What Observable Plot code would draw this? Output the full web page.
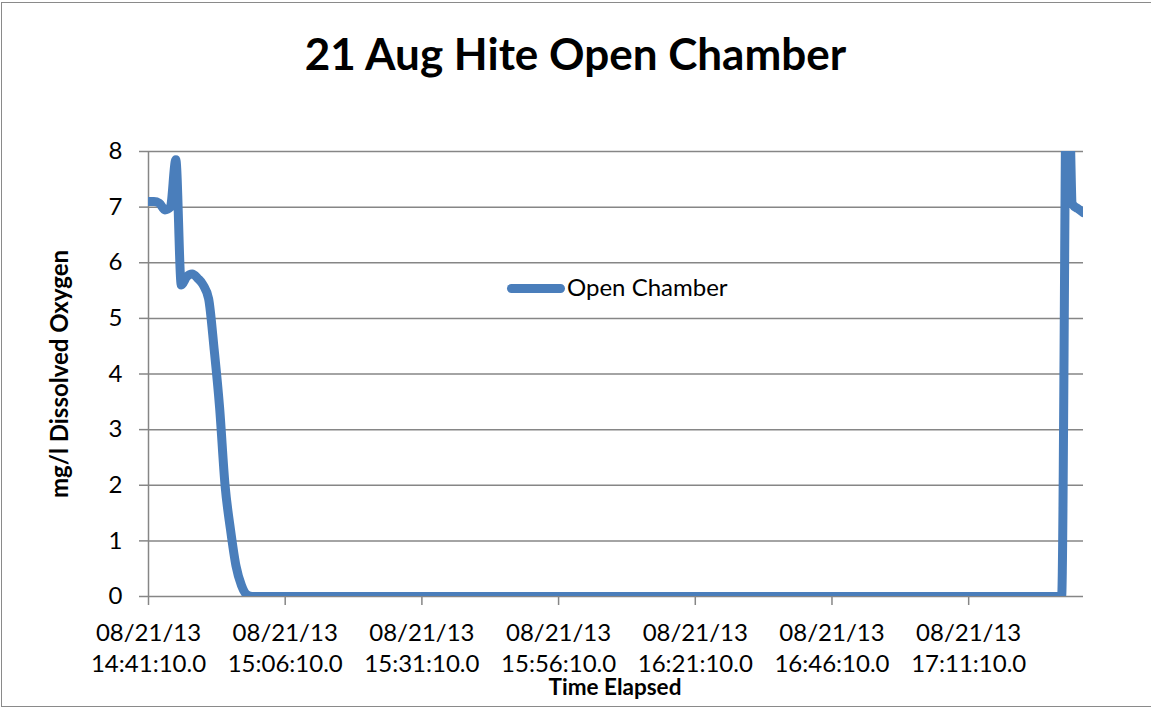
<!DOCTYPE html>
<html>
<head>
<meta charset="utf-8">
<script src="https://cdn.jsdelivr.net/npm/d3@7"></script>
<script src="https://cdn.jsdelivr.net/npm/@observablehq/plot@0.6"></script>
<style>
  html, body { margin: 0; padding: 0; background: #ffffff; }
  #chart { position: relative; width: 1151px; height: 709px; overflow: hidden; font-family: Lato, "Open Sans", sans-serif; color: #000; }
  #frame { position: absolute; left: 1px; top: 2px; width: 1156px; height: 703px; border: 1.5px solid #8a8a8a; }
  #plot { position: absolute; left: 0; top: 0; }
  .txt { position: absolute; white-space: nowrap; line-height: 1; }
  #title { left: 0; width: 1151px; top: 31px; text-align: center; font-weight: bold; font-size: 44px; }
  #ylabel { left: 59px; top: 373.5px; font-weight: bold; font-size: 24px; transform: translate(-50%, -50%) rotate(-90deg); }
  #xlabel { left: 615px; top: 676px; font-weight: bold; font-size: 22.5px; transform: translateX(-50%); }
  #legend-swatch { position: absolute; left: 507px; top: 283.5px; width: 58px; height: 9px; border-radius: 4.5px; background: #4a7ebb; }
  #legend-text { left: 567px; top: 275px; font-size: 24px; }
</style>
</head>
<body>
<div id="chart">
  <div id="frame"></div>
  <div id="plot"></div>
  <div class="txt" id="title">21 Aug Hite Open Chamber</div>
  <div class="txt" id="ylabel">mg/l Dissolved  Oxygen</div>
  <div class="txt" id="xlabel">Time Elapsed</div>
  <div id="legend-swatch"></div>
  <div class="txt" id="legend-text">Open Chamber</div>
</div>
<script>
// ---- data ----
const chartDate = "2013-08-21";
const times = [
  "14:41:10","14:42:10","14:43:10","14:44:10","14:45:10","14:46:10","14:47:10",
  "14:48:10","14:49:10","14:50:10","14:51:10","14:52:10","14:53:10","14:54:10",
  "14:55:10","14:56:10","14:57:10","14:58:10","14:59:10","15:00:10",
  "17:28:10","17:29:10","17:30:10","17:31:10","17:32:10"
];
const oxygen = [
  7.1, 7.1, 7.07, 6.95, 7.0, 7.85, 5.6,
  5.75, 5.8, 5.72, 5.6, 5.35, 4.45, 3.4,
  2.0, 1.2, 0.55, 0.2, 0.03, 0,
  0, 10.5, 7.05, 6.97, 6.9
];
const xTickTimes = ["14:41:10","15:06:10","15:31:10","15:56:10","16:21:10","16:46:10","17:11:10"];
const yTicks = [0, 1, 2, 3, 4, 5, 6, 7, 8];
const xDomainTimes = ["14:41:10", "17:32:10"];

const toDate = s => new Date(`${chartDate}T${s}Z`);
const data = times.map((t, i) => ({time: toDate(t), value: oxygen[i]}));
const xTicks = xTickTimes.map(toDate);
const xDomain = xDomainTimes.map(toDate);
const fmt = d3.utcFormat("%m/%d/%y\n%H:%M:%S.0");

const gridColor = "#868686";

const chart = Plot.plot({
  width: 1151,
  height: 709,
  marginLeft: 148,
  marginRight: 68,
  marginTop: 151,
  marginBottom: 113,
  style: {fontFamily: "Lato, 'Open Sans', sans-serif", fontSize: "24px", color: "#000", background: "transparent", overflow: "visible"},
  x: {type: "utc", domain: xDomain},
  y: {domain: [0, 8]},
  marks: [
    Plot.gridY(yTicks, {stroke: gridColor, strokeOpacity: 1, strokeWidth: 1.5}),
    Plot.ruleX([xDomain[0]], {stroke: gridColor, strokeWidth: 1.5}),
    Plot.axisY(yTicks, {
      tickSize: 9, tickPadding: 17, stroke: gridColor, strokeWidth: 1.5, fill: "#000",
      fontSize: 24, label: null, tickFormat: d => String(d)
    }),
    Plot.axisX(xTicks, {
      tickSize: 9, tickPadding: 14, stroke: gridColor, strokeWidth: 1.5, fill: "#000",
      fontSize: 24, lineHeight: 1.29, label: null, tickFormat: fmt
    }),
    Plot.line(data, {
      x: "time", y: "value", stroke: "#4a7ebb", strokeWidth: 9,
      strokeLinecap: "round", strokeLinejoin: "round", curve: "monotone-x", clip: true
    })
  ]
});
document.getElementById("plot").appendChild(chart);
</script>
</body>
</html>
